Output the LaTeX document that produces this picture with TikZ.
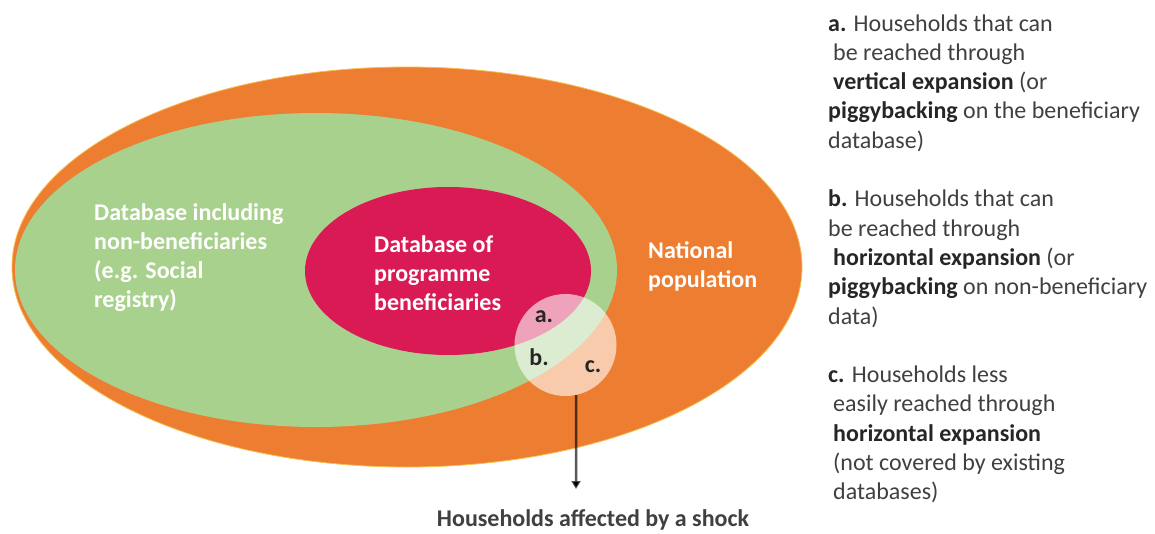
\documentclass[tikz,border=0pt]{standalone}
\usepackage{fontspec}
\setmainfont{Carlito}
\usetikzlibrary{shapes.geometric,arrows.meta}
\definecolor{popor}{HTML}{ED7D31}
\definecolor{dbgreen}{HTML}{A9D18E}
\definecolor{benred}{HTML}{D91A55}
\definecolor{edgey}{HTML}{F7BE4E}
\definecolor{txt}{HTML}{404040}
\definecolor{txtb}{HTML}{262626}
\newcommand{\bt}[1]{\textbf{\color{txtb}#1}}
\begin{document}
\begin{tikzpicture}[x=1pt,y=-1pt,
  region/.style={ellipse, inner sep=0pt},
  lbl/.style={anchor=base west, inner sep=0pt, text=white, font=\fontsize{24}{29}\selectfont\bfseries},
  desc/.style={anchor=base west, inner sep=0pt, text=txt, font=\fontsize{24}{29}\selectfont},
  letterlbl/.style={anchor=base, inner sep=0pt, text=txtb, font=\fontsize{24}{29}\selectfont\bfseries},
  pointer/.style={draw=black, draw opacity=0.65, line width=2.5pt, -{Triangle[length=8pt,width=9pt]}}
]
\useasboundingbox (0,0) rectangle (1155,533);
% regions
\node[region, fill=popor, draw=edgey, line width=0.8pt, minimum width=790pt, minimum height=400pt] (pop) at (407,267) {};
\node[region, fill=dbgreen, minimum width=602pt, minimum height=314pt] (reg) at (316,270) {};
\node[region, fill=benred, minimum width=286pt, minimum height=168pt] (ben) at (448,271) {};
\node[circle, fill=white, fill opacity=0.6, minimum size=102pt, inner sep=0pt] (shock) at (565.5,345) {};
% region labels
\node[lbl] (r1) at (94,220) {Database including};
\node[lbl] (r2) at (94,249) {non-beneficiaries};
\node[lbl] (r3) at (94,278) {(e.g. Social};
\node[lbl] (r4) at (94,307) {registry)};
\node[lbl] (b1) at (374,252) {Database of};
\node[lbl] (b2) at (374,281) {programme};
\node[lbl] (b3) at (374,310) {beneficiaries};
\node[lbl] (n1) at (648,258) {National};
\node[lbl] (n2) at (648,287) {population};
% letters
\node[letterlbl] (la) at (544,322) {a.};
\node[letterlbl] (lb) at (539,365) {b.};
\node[letterlbl] (lc) at (593,372) {c.};
% arrow
\coordinate (tip) at (576,489);
\draw[pointer] (shock.-78) -- (tip);
\node[anchor=base, inner sep=0pt, text=txt, font=\fontsize{24}{29}\selectfont\bfseries] (shocklbl) at (593,526.5) {Households affected by a shock};
% descriptions
\node[desc] (a1) at (828,31) {\bt{a.} Households that can};
\node[desc] (a2) at (833,60.3) {be reached through};
\node[desc] (a3) at (833,89.6) {\bt{vertical expansion} (or};
\node[desc] (a4) at (828,118.9) {\bt{piggybacking} on the beneficiary};
\node[desc] (a5) at (828,148.2) {database)};
\node[desc] (d1) at (828,206.8) {\bt{b.} Households that can};
\node[desc] (d2) at (828,236.1) {be reached through};
\node[desc] (d3) at (833,265.4) {\bt{horizontal expansion} (or};
\node[desc] (d4) at (828,294.7) {\bt{piggybacking} on non-beneficiary};
\node[desc] (d5) at (828,324) {data)};
\node[desc] (c1) at (828,382.6) {\bt{c.} Households less};
\node[desc] (c2) at (833,411.9) {easily reached through};
\node[desc] (c3) at (833,441.2) {\bt{horizontal expansion}};
\node[desc] (c4) at (833,470.5) {(not covered by existing};
\node[desc] (c5) at (833,499.8) {databases)};
\end{tikzpicture}
\end{document}
